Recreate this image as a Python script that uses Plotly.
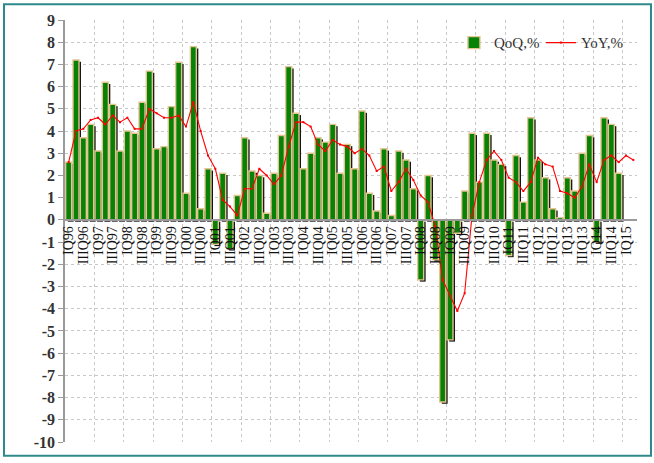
import plotly.graph_objects as go

# quarter labels IQ96 .. IIQ15
years = ["96", "97", "98", "99", "00", "01", "02", "03", "04", "05",
         "06", "07", "08", "09", "10", "11", "12", "13", "14", "15"]
quarters = [q + "Q" + y for y in years for q in ("I", "II", "III", "IV")][:78]

# quarter-on-quarter growth, % (IQ96 .. IVQ14)
qoq = [2.6, 7.2, 3.7, 4.3, 3.1, 6.2, 5.2, 3.1, 4.0, 3.9, 5.3, 6.7,
       3.2, 3.3, 5.1, 7.1, 1.2, 7.8, 0.5, 2.3, -1.1, 2.1, -1.3, 1.1,
       3.7, 2.2, 2.0, 0.3, 2.1, 3.8, 6.9, 4.8, 2.3, 3.0, 3.7, 3.5,
       4.3, 2.1, 3.4, 2.3, 4.9, 1.2, 0.4, 3.2, 0.2, 3.1, 2.7, 1.4,
       -2.7, 2.0, -1.8, -8.2, -5.4, -0.6, 1.3, 3.9, 1.7, 3.9, 2.7, 2.5,
       -1.6, 2.9, 0.8, 4.6, 2.7, 1.9, 0.5, 0.1, 1.9, 1.3, 3.0, 3.8,
       -1.0, 4.6, 4.3, 2.1]

# year-on-year growth, % (IQ96 .. IIQ15)
yoy = [2.6, 4.0, 4.1, 4.5, 4.6, 4.3, 4.7, 4.4, 4.6, 4.1, 4.1, 5.0,
       4.8, 4.6, 4.6, 4.7, 4.2, 5.3, 4.0, 2.9, 2.3, 0.9, 0.6, 0.2,
       1.4, 1.4, 2.3, 2.0, 1.6, 2.0, 3.3, 4.4, 4.4, 4.2, 3.4, 3.1,
       3.6, 3.4, 3.3, 3.0, 3.2, 2.9, 2.2, 2.4, 1.3, 1.7, 2.3, 1.8,
       1.1, 0.8, -0.3, -2.7, -3.4, -4.1, -3.3, 0.2, 1.7, 2.7, 3.1, 2.7,
       1.9, 1.7, 1.3, 1.7, 2.8, 2.5, 2.4, 1.3, 1.2, 1.0, 1.5, 2.5,
       1.7, 2.7, 2.9, 2.6, 2.9, 2.7]

y_ticks = list(range(-10, 10))
y_labels = [str(v) for v in y_ticks]  # plain hyphen minus, as in the original

x_bar = list(range(len(qoq)))
x_line = list(range(len(yoy)))
tick_pos = x_line[::2]
tick_text = quarters[::2]

serif = "Liberation Serif, Times New Roman, serif"

fig = go.Figure()

# dark drop shadow behind the bars
fig.add_trace(go.Bar(
    x=x_bar, y=qoq, base=-0.08,
    width=0.8, offset=-0.12,
    marker=dict(color="#151515", line=dict(width=0)),
    showlegend=False, hoverinfo="skip",
))

fig.add_trace(go.Bar(
    x=x_bar, y=qoq, name="QoQ,%",
    width=0.82, offset=-0.41,
    marker=dict(color="#078207", line=dict(color="#E2C590", width=1.4)),
))

fig.add_trace(go.Scatter(
    x=x_line, y=yoy, name="YoY,%",
    mode="lines+markers",
    line=dict(color="#FF0000", width=1.1),
    marker=dict(color="#FF0000", size=2, symbol="square"),
))

fig.update_layout(
    width=654, height=463,
    margin=dict(l=65, r=17, t=20, b=16),
    paper_bgcolor="white", plot_bgcolor="white",
    barmode="overlay",
    font=dict(family=serif, color="#222222"),
    legend=dict(
        orientation="h", x=0.68, y=0.985, xanchor="left", yanchor="top",
        font=dict(family=serif, size=15, color="#333333"),
        bgcolor="rgba(0,0,0,0)", itemwidth=30,
        entrywidth=42, entrywidthmode="pixels",
    ),
    xaxis=dict(
        range=[-0.5, 77.5],
        tickmode="array", tickvals=tick_pos, ticktext=tick_text,
        tickangle=-90, ticks="",
        tickfont=dict(family=serif, size=14, color="#111111"),
        showgrid=False, zeroline=False,
        showline=True, linecolor="#9a9a9a", linewidth=1.5,
        anchor="free", position=10 / 19,
        minor=dict(tickmode="linear", tick0=-0.5, dtick=4, showgrid=True,
                   gridcolor="#c8c8c8", griddash="dot", gridwidth=1, ticks=""),
    ),
    yaxis=dict(
        range=[-10, 9], tickmode="array", tickvals=y_ticks, ticktext=y_labels,
        tickfont=dict(family=serif, size=16, color="#333333", weight="bold"),
        showgrid=True, gridcolor="#c8c8c8", griddash="dot", gridwidth=1,
        zeroline=False,
        showline=True, linecolor="#9a9a9a", linewidth=1.5,
        ticks="outside", ticklen=5, tickcolor="#9a9a9a",
    ),
    shapes=[dict(
        type="rect", xref="paper", yref="paper",
        x0=(4 - 65) / 572, x1=(651 - 65) / 572,
        y0=(447 - 461) / 427, y1=(447 - 4) / 427,
        line=dict(color="#2E8A8A", width=2), layer="below",
    )],
)

fig.write_html(
    "out.html",
    config={"displayModeBar": False},
    post_script=(
        "document.body.style.margin='0';"
        "document.body.style.overflow='hidden';"
        "document.documentElement.style.overflow='hidden';"
    ),
)
